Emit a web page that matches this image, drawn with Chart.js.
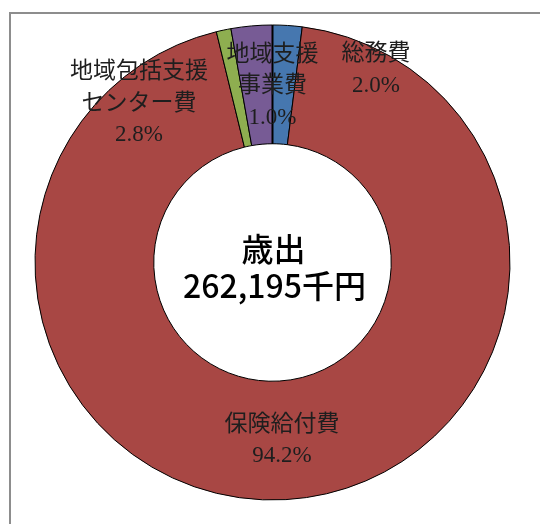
<!DOCTYPE html>
<html lang="ja">
<head>
<meta charset="utf-8">
<script src="https://cdn.jsdelivr.net/npm/chart.js@4.4.1/dist/chart.umd.min.js"></script>
<style>
  html, body { margin: 0; padding: 0; background: #fff; }
  #wrap { position: relative; width: 540px; height: 524px; overflow: hidden; }
  #frame {
    position: absolute; left: 9px; top: 12px; width: 600px; height: 600px;
    border-left: 2px solid #8d8d8d; border-top: 2px solid #8d8d8d;
  }
  canvas { position: absolute; left: 0; top: 0; }
</style>
</head>
<body>
<div id="wrap">
  <div id="frame"></div>
  <canvas id="expenditureChart" width="540" height="524"></canvas>
</div>
<script>
// 歳出の内訳（%）
const categories = ['総務費', '保険給付費', '地域支援事業費', '地域包括支援センター費'];
const shares = [2.0, 94.2, 1.0, 2.8];
const sliceColors = ['#4677af', '#a84744', '#8eae50', '#775b95'];

// data labels as they sit on the picture (text lines + spot relative to the ring)
const labelLines = [
  ['総務費', '2.0%'],
  ['保険給付費', '94.2%'],
  ['地域包括支援', 'センター費', '2.8%'],
  ['地域支援', '事業費', '1.0%']
];
const labelSpots = [
  [0.436, -0.878],
  [0.04, 0.684],
  [-0.562, -0.802],
  [0.0, -0.874]
];

const centerTitle = '歳出';
const centerTotal = '262,195千円';

const labelPlugin = {
  id: 'ringLabels',
  afterDatasetsDraw(chart) {
    const arc = chart.getDatasetMeta(0).data[0];
    if (!arc) return;
    const { x, y, outerRadius, startAngle } = arc.getProps(['x', 'y', 'outerRadius', 'startAngle'], true);
    const ctx = chart.ctx;
    ctx.save();

    // darker seam where the ring starts (top)
    ctx.strokeStyle = '#000';
    ctx.lineWidth = 2;
    ctx.beginPath();
    ctx.moveTo(x + Math.cos(startAngle) * arc.innerRadius, y + Math.sin(startAngle) * arc.innerRadius);
    ctx.lineTo(x + Math.cos(startAngle) * outerRadius, y + Math.sin(startAngle) * outerRadius);
    ctx.stroke();

    ctx.textAlign = 'center';
    ctx.textBaseline = 'middle';
    ctx.fillStyle = '#1e1e1e';
    ctx.font = '23px "Liberation Serif", "Noto Sans CJK JP", serif';
    labelLines.forEach((lines, i) => {
      const cx = x + labelSpots[i][0] * outerRadius;
      const cy = y + labelSpots[i][1] * outerRadius;
      lines.forEach((t, j) => ctx.fillText(t, cx, cy + j * 31.5));
    });

    ctx.fillStyle = '#000';
    ctx.font = '500 32px "Noto Sans CJK JP", sans-serif';
    ctx.fillText(centerTitle, x + 1, y - 14);
    ctx.fillText(centerTotal, x + 2, y + 23);
    ctx.restore();
  }
};

new Chart(document.getElementById('expenditureChart'), {
  type: 'doughnut',
  data: {
    labels: categories,
    datasets: [{
      data: shares,
      backgroundColor: sliceColors,
      borderColor: '#000',
      borderWidth: 1,
      hoverOffset: 0,
      radius: 237.5
    }]
  },
  options: {
    responsive: false,
    animation: false,
    cutout: '50%',
    layout: { padding: { left: 5, right: 0, top: 1, bottom: 0 } },
    plugins: {
      legend: { display: false },
      tooltip: { enabled: false }
    }
  },
  plugins: [labelPlugin]
});
</script>
</body>
</html>
